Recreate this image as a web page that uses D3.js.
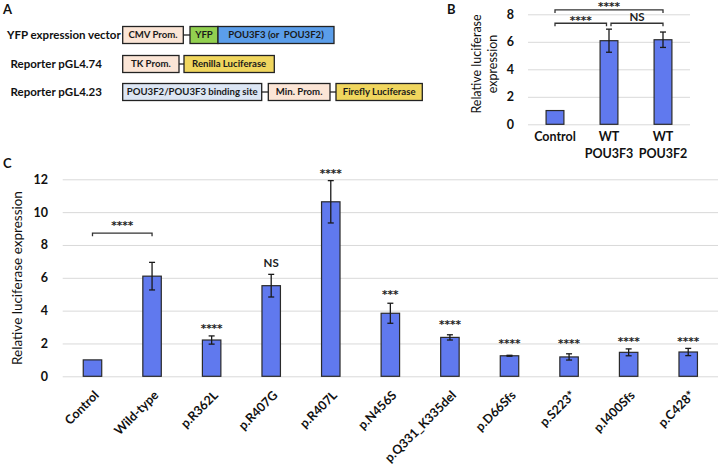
<!DOCTYPE html>
<html><head><meta charset="utf-8">
<script src="https://cdn.jsdelivr.net/npm/d3@7"></script>
<style>body{margin:0;background:#fff} svg{display:block;font-family:Lato,'Open Sans',sans-serif}</style>
</head><body>
<svg id="c" width="719" height="469"></svg>
<script>
// ---------- Panel C data ----------
const categoriesC = ["Control","Wild-type","p.R362L","p.R407G","p.R407L","p.N456S","p.Q331_K335del","p.D66Sfs","p.S223*","p.I400Sfs","p.C428*"];
const valuesC = [1.0, 6.1, 2.21, 5.52, 10.63, 3.84, 2.37, 1.25, 1.18, 1.46, 1.48];
const errorsC = [0, 0.84, 0.25, 0.69, 1.29, 0.61, 0.16, 0.03, 0.19, 0.21, 0.22];
const sigLabelsC = ["", "", "****", "NS", "****", "***", "****", "****", "****", "****", "****"];
const sigLevelsC = [null, null, 3.06, 6.88, 12.52, 5.13, 3.33, 2.17, 2.17, 2.31, 2.31];
const bracketsC = [{from: 0, to: 1, label: "****", level: 8.72, labelLevel: 9.35}];
const yTicksC = [0, 2, 4, 6, 8, 10, 12];
const yTitleC = "Relative luciferase expression";

// ---------- Panel B data ----------
const categoriesB = [["Control"], ["WT", "POU3F3"], ["WT", "POU3F2"]];
const valuesB = [1.0, 6.08, 6.15];
const errorsB = [0, 0.84, 0.56];
const yTicksB = [0, 2, 4, 6, 8];
const bracketsB = [
  {from: 0, to: 1, label: "****", level: 7.35, labelLevel: 7.76},
  {from: 1, to: 2, label: "NS", level: 7.35, labelLevel: 7.84},
  {from: 0, to: 2, label: "****", level: 8.32, labelLevel: 8.73}
];
const yTitleB = ["Relative luciferase", "expression"];

// ---------- Panel A content ----------
const rowLabelsA = ["YFP expression vector", "Reporter pGL4.74", "Reporter pGL4.23"];
const boxLabelsA = [
  ["CMV Prom.", "YFP", "POU3F3 (or  POU3F2)"],
  ["TK Prom.", "Renilla Luciferase"],
  ["POU3F2/POU3F3 binding site", "Min. Prom.", "Firefly Luciferase"]
];

const svg = d3.select("#c");
const FONT = "Lato,'Open Sans',sans-serif";
const BAR = "#6079ee", BARSTROKE = "#2a2a2a", GRID = "#d9d9d9";

// significance text: glyph centred on y
function sigText(g, x, y, t) {
  const ns = t === "NS";
  g.append("text").attr("x", x).attr("y", y + (ns ? 4 : 6.2))
    .attr("text-anchor", "middle").text(t)
    .attr("font-family", ns ? FONT : "'DejaVu Sans',sans-serif")
    .attr("font-size", ns ? 11.5 : 10.5).attr("font-weight", 700).attr("fill", "#222");
}

// ---------- Panel labels ----------
[["A", 3, 14], ["B", 447, 14], ["C", 3, 168]].forEach(([t, x, y]) =>
  svg.append("text").attr("x", x).attr("y", y).text(t)
    .attr("font-size", 13).attr("font-weight", 700).attr("fill", "#111"));

// ---------- Panel A ----------
(function () {
  const colors = {peach: "#fbe5d6", green: "#92d050", blue: "#5b9eea", yellow: "#f0d65e", light: "#dce6f4"};
  const layout = [
    {y: 35, labelX: 7, segs: [[122.7, 183.3, "peach", false], [190, 218, "green", false], [218, 334, "blue", true]]},
    {y: 64, labelX: 10.5, segs: [[122.7, 179, "peach", false], [184, 274.3, "yellow", false]]},
    {y: 92, labelX: 10.5, segs: [[122.7, 261.7, "light", false], [268.3, 330, "peach", false], [336, 422.3, "yellow", false]]}
  ];
  const h = 17;
  layout.forEach((row, i) => {
    const g = svg.append("g");
    g.append("text").attr("x", row.labelX).attr("y", row.y).attr("dy", "0.35em")
      .text(rowLabelsA[i]).attr("font-size", 11.5).attr("font-weight", 700).attr("fill", "#111");
    row.segs.forEach((s, j) => {
      if (j > 0 && !s[3]) {
        const prev = row.segs[j - 1];
        g.append("line").attr("x1", prev[1]).attr("x2", s[0]).attr("y1", row.y).attr("y2", row.y)
          .attr("stroke", "#222").attr("stroke-width", 1.3);
      }
      g.append("rect").attr("x", s[0]).attr("y", row.y - h / 2).attr("width", s[1] - s[0]).attr("height", h)
        .attr("fill", colors[s[2]]).attr("stroke", "#222").attr("stroke-width", 1.3);
      g.append("text").attr("x", (s[0] + s[1]) / 2).attr("y", row.y).attr("dy", "0.35em")
        .attr("text-anchor", "middle").style("white-space", "pre").text(boxLabelsA[i][j])
        .attr("font-size", 9.6).attr("font-weight", 700).attr("fill", "#1a1a1a");
    });
  });
})();

// ---------- helper for bar charts ----------
function barChart(opts) {
  const g = svg.append("g");
  const x = d3.scaleBand().domain(d3.range(opts.values.length)).range(opts.xRange).padding(0);
  const y = d3.scaleLinear().domain([0, d3.max(opts.ticks)]).range(opts.yRange);
  const cx = i => x(i) + x.bandwidth() / 2;
  const bw = x.bandwidth() * opts.barFrac;

  const grid = g.append("g").attr("transform", `translate(${opts.xRange[0]},0)`)
    .call(d3.axisLeft(y).tickValues(opts.ticks).tickSize(-(opts.xRange[1] - opts.xRange[0])).tickFormat(""));
  grid.select(".domain").remove();
  grid.selectAll("line").attr("stroke", GRID).attr("stroke-width", 1);

  const ax = g.append("g").attr("transform", `translate(${opts.labelRight},0)`)
    .call(d3.axisLeft(y).tickValues(opts.ticks).tickSize(0).tickPadding(0));
  ax.select(".domain").remove();
  ax.selectAll("text").attr("font-family", FONT).attr("font-size", opts.tickFont)
    .attr("font-weight", 700).attr("fill", "#111");

  g.selectAll("rect.bar").data(opts.values).join("rect").attr("class", "bar")
    .attr("x", (d, i) => cx(i) - bw / 2).attr("width", bw)
    .attr("y", d => y(d)).attr("height", d => y(0) - y(d))
    .attr("fill", BAR).attr("stroke", BARSTROKE).attr("stroke-width", 1.2);

  const eg = g.append("g").attr("stroke", "#1a1a1a").attr("stroke-width", 1.3);
  opts.values.forEach((v, i) => {
    const e = opts.errors[i];
    if (!e) return;
    eg.append("line").attr("x1", cx(i)).attr("x2", cx(i)).attr("y1", y(v + e)).attr("y2", y(v - e));
    [v + e, v - e].forEach(t => eg.append("line").attr("x1", cx(i) - 3).attr("x2", cx(i) + 3)
      .attr("y1", y(t)).attr("y2", y(t)));
  });

  opts.brackets.forEach(b => {
    const x1 = cx(b.from) + (b.padL || 0), x2 = cx(b.to) + (b.padR || 0), yy = y(b.level);
    g.append("path").attr("d", `M${x1},${yy + 3}V${yy}H${x2}V${yy + 3}`)
      .attr("fill", "none").attr("stroke", "#333").attr("stroke-width", 1.3);
    sigText(g, (x1 + x2) / 2, y(b.labelLevel), b.label);
  });
  return {x, y, cx, g};
}

// ---------- Panel B ----------
(function () {
  const bBr = bracketsB.map((b, i) => Object.assign({}, b,
    i === 0 ? {padR: -2.5} : i === 1 ? {padL: 2} : {}));
  const c = barChart({
    values: valuesB, errors: errorsB, ticks: yTicksB,
    xRange: [528, 690], yRange: [124.3, 14.3], barFrac: 0.33,
    labelRight: 514, tickFont: 12.5, brackets: bBr
  });
  categoriesB.forEach((lines, i) => {
    lines.forEach((t, k) => c.g.append("text").attr("x", c.cx(i)).attr("y", 141 + k * 17)
      .attr("text-anchor", "middle").text(t).attr("font-size", 12.5).attr("font-weight", 700).attr("fill", "#111"));
  });
  yTitleB.forEach((t, k) => svg.append("text")
    .attr("transform", `translate(${481 + k * 16},64) rotate(-90)`)
    .attr("text-anchor", "middle").text(t).attr("font-size", 12.5).attr("fill", "#111"));
})();

// ---------- Panel C ----------
(function () {
  const c = barChart({
    values: valuesC, errors: errorsC, ticks: yTicksC,
    xRange: [62.7, 718], yRange: [376.3, 179.3], barFrac: 0.31,
    labelRight: 48, tickFont: 12.5, brackets: bracketsC
  });
  sigLabelsC.forEach((t, i) => {
    if (!t) return;
    sigText(c.g, c.cx(i), c.y(sigLevelsC[i]), t);
  });
  categoriesC.forEach((t, i) => {
    c.g.append("text").attr("transform", `translate(${c.cx(i) + 4},393) rotate(-45)`)
      .attr("text-anchor", "end").attr("dy", "0.35em").text(t)
      .attr("font-size", 12.5).attr("font-weight", 700).attr("fill", "#111");
  });
  svg.append("text").attr("transform", "translate(22,278) rotate(-90)")
    .attr("text-anchor", "middle").text(yTitleC).attr("font-size", 13.5).attr("fill", "#111");
})();
</script>
</body></html>
